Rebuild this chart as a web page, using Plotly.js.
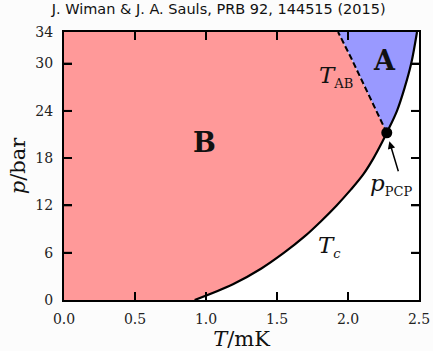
<!DOCTYPE html>
<html><head><meta charset="utf-8">
<script src="https://cdn.plot.ly/plotly-3.0.1.min.js"></script>
<style>html,body{margin:0;padding:0;background:#fcfcfc;}</style>
</head><body>
<div id="chart" style="width:433px;height:351px;"></div>
<script>
// Tc(p) superfluid transition line (T in mK, p in bar)
const tcP = [0, 2, 4, 6, 8, 10, 12, 14, 16, 18, 20, 21.22, 24, 27, 30, 34];
const tcT = [0.92, 1.19, 1.39, 1.55, 1.69, 1.81, 1.92, 2.02, 2.11, 2.18, 2.24, 2.273, 2.345, 2.40, 2.445, 2.486];
// TAB(p) A-B transition line, from PCP upward
const abP = [21.22, 24.2, 27.2, 30.6, 34];
const abT = [2.273, 2.195, 2.115, 2.025, 1.93];
// polycritical point
const pcpT = [2.273];
const pcpP = [21.22];
const xTicks = [0, 0.5, 1.0, 1.5, 2.0, 2.5];
const yTicks = [0, 6, 12, 18, 24, 30, 34];

const iPCP = tcP.indexOf(21.22);
// B phase polygon
const bX = [0].concat(tcT.slice(0, iPCP + 1), abT.slice(1), [0]);
const bY = [0].concat(tcP.slice(0, iPCP + 1), abP.slice(1), [34]);
// A phase polygon
const aX = tcT.slice(iPCP).concat(abT.slice().reverse());
const aY = tcP.slice(iPCP).concat(abP.slice().reverse());

const W = 433, H = 351, M = {l: 64, r: 14, t: 32, b: 51};
const xR = [0, 2.5], yR = [0, 34];
// inward tick marks (8 px) on all four sides, converted to axis units
const TL = 8;
const dx = TL * (xR[1] - xR[0]) / (W - M.l - M.r);
const dy = TL * (yR[1] - yR[0]) / (H - M.t - M.b);
const tkX = [], tkY = [];
xTicks.slice(1, -1).forEach(v => {
  tkX.push(v, v, null, v, v, null);
  tkY.push(yR[0], yR[0] + dy, null, yR[1], yR[1] - dy, null);
});
yTicks.slice(1, -1).forEach(v => {
  tkX.push(xR[0], xR[0] + dx, null, xR[1], xR[1] - dx, null);
  tkY.push(v, v, null, v, v, null);
});

const serif = "DejaVu Serif, Liberation Serif, serif";
const traces = [
  {x: bX, y: bY, type: 'scatter', mode: 'lines', fill: 'toself', fillcolor: '#ff9999', line: {width: 0}, hoverinfo: 'skip'},
  {x: aX, y: aY, type: 'scatter', mode: 'lines', fill: 'toself', fillcolor: '#9999ff', line: {width: 0}, hoverinfo: 'skip'},
  {x: tcT, y: tcP, type: 'scatter', mode: 'lines', line: {color: 'black', width: 2.2, shape: 'spline', smoothing: 1}},
  {x: abT, y: abP, type: 'scatter', mode: 'lines', line: {color: 'black', width: 2, dash: '6px,3px'}},
  {x: pcpT, y: pcpP, type: 'scatter', mode: 'markers', marker: {color: 'black', size: 11}},
  {x: tkX, y: tkY, type: 'scatter', mode: 'lines', line: {color: 'black', width: 1.8}, connectgaps: false, hoverinfo: 'skip'}
];

const sub = s => '<sub><span style="font-size:13px">' + s + '</span></sub>';
const layout = {
  width: W, height: H,
  margin: M,
  paper_bgcolor: '#fcfcfc', plot_bgcolor: 'white',
  showlegend: false,
  title: {text: 'J. Wiman &amp; J. A. Sauls, PRB 92, 144515 (2015)', font: {family: 'DejaVu Sans', size: 14.5, color: '#111'}, x: 0.505, xanchor: 'center', y: 0.988, yanchor: 'top'},
  xaxis: {range: xR, tickvals: xTicks, ticktext: xTicks.map(v => v.toFixed(1)), ticks: 'inside', ticklen: 8, tickwidth: 2, tickcolor: 'black',
    showline: true, linewidth: 2, linecolor: 'black', mirror: 'ticks', showgrid: false, zeroline: false, layer: 'above traces',
    tickfont: {family: serif, size: 14, color: '#222'}, ticklabelstandoff: 5,
    title: {text: '<i>T</i>/mK', font: {family: serif, size: 21, color: '#111'}, standoff: 9}},
  yaxis: {range: yR, tickvals: yTicks, ticks: 'inside', ticklen: 8, tickwidth: 2, tickcolor: 'black',
    showline: true, linewidth: 2, linecolor: 'black', mirror: 'ticks', showgrid: false, zeroline: false, layer: 'above traces',
    tickfont: {family: serif, size: 14, color: '#222'}, ticklabelstandoff: 6,
    title: {text: '<i>p</i>/bar', font: {family: serif, size: 21, color: '#111'}, standoff: 4}},
  annotations: [
    {x: 0.99, y: 20, text: '<b>B</b>', showarrow: false, font: {family: serif, size: 27, color: '#111'}},
    {x: 2.255, y: 30.4, text: '<b>A</b>', showarrow: false, font: {family: serif, size: 27, color: '#111'}},
    {x: 1.915, y: 28.3, text: '<i>T</i>' + sub('AB'), showarrow: false, font: {family: serif, size: 23, color: '#111'}},
    {x: 1.87, y: 6.8, text: '<i>T</i>' + sub('<i>c</i>'), showarrow: false, font: {family: serif, size: 23, color: '#111'}},
    {x: 2.30, y: 14.6, text: '<i>p</i>' + sub('PCP'), showarrow: false, font: {family: serif, size: 23, color: '#111'}},
    {x: pcpT[0], y: pcpP[0], ax: 12, ay: 40, text: '', showarrow: true, arrowhead: 2, arrowsize: 1, arrowwidth: 1.5, arrowcolor: 'black', standoff: 9}
  ]
};
Plotly.newPlot('chart', traces, layout, {displayModeBar: false, staticPlot: true});
</script>
</body></html>
